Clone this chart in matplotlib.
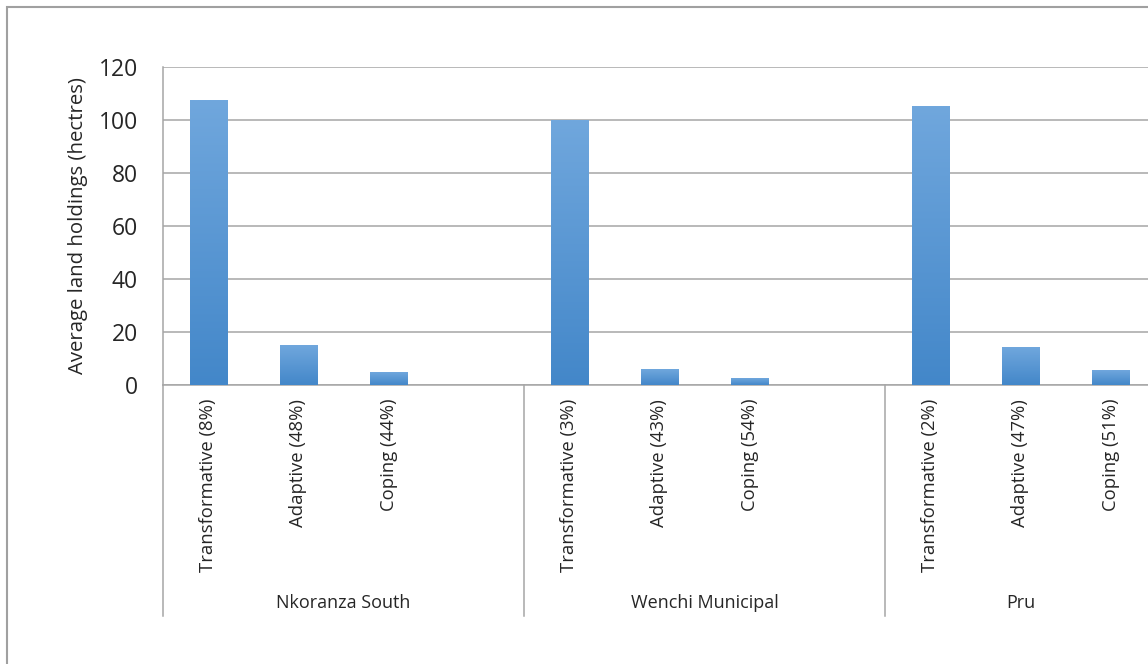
import matplotlib.pyplot as plt
import matplotlib.patches as patches
import matplotlib.transforms as transforms
from matplotlib.colors import LinearSegmentedColormap
import numpy as np

# Average land holdings per district and strategy group
districts = ['Nkoranza South', 'Wenchi Municipal', 'Pru']
categories = [['Transformative (8%)', 'Adaptive (48%)', 'Coping (44%)'],
              ['Transformative (3%)', 'Adaptive (43%)', 'Coping (54%)'],
              ['Transformative (2%)', 'Adaptive (47%)', 'Coping (51%)']]
values = [[107.3, 14.8, 4.9],
          [100.0, 6.0, 2.3],
          [105.0, 14.1, 5.3]]

plt.rcParams['font.family'] = ['Open Sans', 'DejaVu Sans']

W, H = 1148, 664
fig = plt.figure(figsize=(W/100, H/100), dpi=100)

# plot area in pixels: left 163, top 67, bottom 385, one slot ~90.25 px
# 4 slots per district (last one empty) except the last district
nslots = 11
ax = fig.add_axes([163/W, (H-385)/H, nslots*90.25/W, 318/H])

xpos = []
labels = []
heights = []
for g in range(len(districts)):
    for k in range(3):
        xpos.append(g*4 + k)
        labels.append(categories[g][k])
        heights.append(values[g][k])

bars = ax.bar(xpos, heights, width=0.41, color='none', edgecolor='none', zorder=3)

# vertical gradient for every bar, light at top
grad = np.linspace(0, 1, 256).reshape(-1, 1)
cmap = LinearSegmentedColormap.from_list('bar', ['#4387c9', '#70a7dd'])
for b in bars:
    x0 = b.get_x()
    x1 = x0 + b.get_width()
    h = b.get_height()
    ax.imshow(grad, extent=[x0, x1, 0, h], origin='lower', aspect='auto',
              cmap=cmap, zorder=3)

ax.set_xlim(-0.5, nslots - 0.5)
ax.set_ylim(0, 120)
ax.set_yticks(np.arange(0, 121, 20))
ax.yaxis.grid(True, color='#a6a6a6', linewidth=1.1, zorder=0)
ax.set_axisbelow(True)

ax.set_xticks(xpos)
ax.set_xticklabels(labels, rotation=90, fontsize=13.3, color='#262626')
ax.tick_params(axis='x', length=0, pad=10)
ax.tick_params(axis='y', length=0, pad=18, labelsize=16.5, labelcolor='#262626')

for s in ['top', 'right']:
    ax.spines[s].set_visible(False)
ax.spines['left'].set_color('#a6a6a6')
ax.spines['bottom'].set_color('#a6a6a6')
ax.spines['left'].set_linewidth(1.1)
ax.spines['bottom'].set_linewidth(1.1)

ax.set_ylabel('Average land holdings (hectres)', fontsize=14.7, color='#262626', labelpad=8)

# district separators and names below the category labels
trans = transforms.blended_transform_factory(ax.transData, ax.transAxes)
seps = [-0.5, 3.5, 7.5, nslots - 0.5]
for xs in seps:
    ax.plot([xs, xs], [0, -231/318], color='#a6a6a6', lw=1.1,
            transform=trans, clip_on=False)
for g, name in enumerate(districts):
    xc = (seps[g] + seps[g+1]) / 2
    ax.text(xc, -(603-385)/318, name, transform=trans, ha='center', va='center',
            fontsize=13, color='#262626')

# outer chart border
border = patches.Rectangle((7/W, -0.1), 1.2, (H-7)/H + 0.1, transform=fig.transFigure,
                           fill=False, edgecolor='#a0a0a0', lw=1.5, clip_on=False)
fig.patches.append(border)

fig.savefig('out.png', dpi=100)
